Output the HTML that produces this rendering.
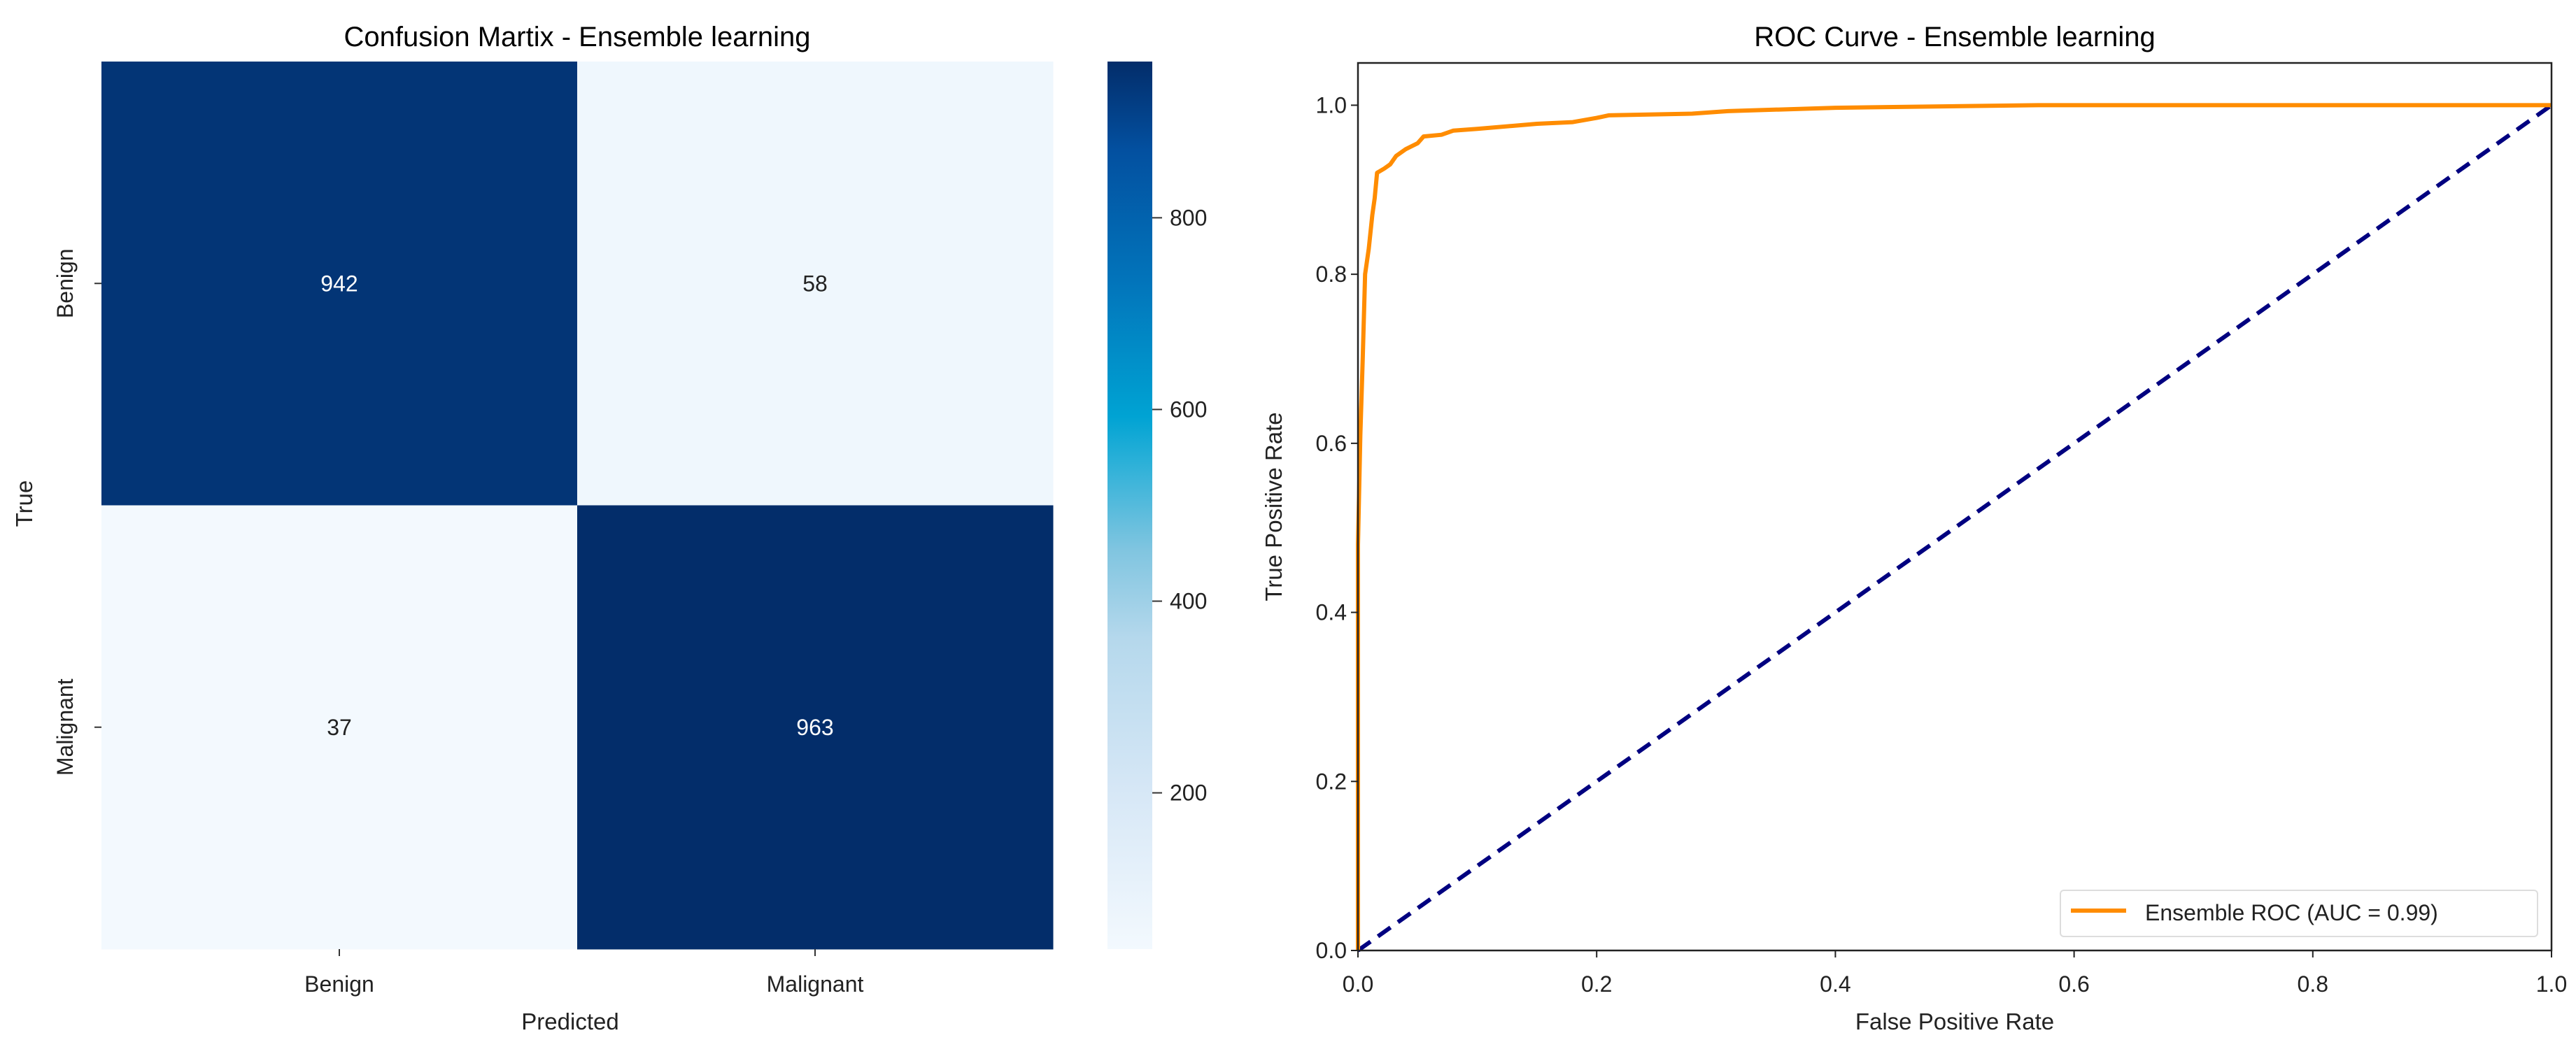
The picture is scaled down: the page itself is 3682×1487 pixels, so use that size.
<!DOCTYPE html>
<html><head><meta charset="utf-8"><style>
html,body{margin:0;padding:0;background:#fff;}
svg{display:block;font-family:"Liberation Sans",sans-serif;}
</style></head><body>
<svg id="fig" width="3682" height="1487" viewBox="0 0 3682 1487" xmlns="http://www.w3.org/2000/svg">
<defs>
<linearGradient id="cbgrad" x1="0" y1="1" x2="0" y2="0">
<stop offset="0" stop-color="#f3f9fe"/>
<stop offset="0.18" stop-color="#d6e7f6"/>
<stop offset="0.35" stop-color="#b5d8ec"/>
<stop offset="0.45" stop-color="#80c5e0"/>
<stop offset="0.55" stop-color="#2ab0d8"/>
<stop offset="0.6" stop-color="#00a3d3"/>
<stop offset="0.75" stop-color="#0275bb"/>
<stop offset="0.9" stop-color="#0350a0"/>
<stop offset="1" stop-color="#032d6a"/>
</linearGradient>
</defs>
<g id="hm"></g>
<g id="roc"></g>
</svg>
<script>
const cmLabels = ["Benign", "Malignant"];
const cmValues = [[942, 58], [37, 963]];
const cbTicks = [200, 400, 600, 800];
const rocFpr = [0, 0, 0.002, 0.004, 0.006, 0.009, 0.012, 0.014, 0.016, 0.022, 0.027, 0.032, 0.04, 0.05, 0.055, 0.07, 0.08, 0.1, 0.15, 0.18, 0.2, 0.21, 0.28, 0.31, 0.4, 0.57, 1.0];
const rocTpr = [0, 0.48, 0.61, 0.70, 0.80, 0.83, 0.87, 0.89, 0.92, 0.925, 0.93, 0.94, 0.948, 0.955, 0.963, 0.965, 0.97, 0.972, 0.978, 0.98, 0.985, 0.988, 0.99, 0.993, 0.997, 1.0, 1.0];
const rocXTicks = [0, 0.2, 0.4, 0.6, 0.8, 1.0];
const rocYTicks = [0, 0.2, 0.4, 0.6, 0.8, 1.0];

const NS = "http://www.w3.org/2000/svg";
function mk(parent, tag, attrs, text) {
  const e = document.createElementNS(NS, tag);
  for (const k in attrs) e.setAttribute(k, attrs[k]);
  if (text !== undefined) e.textContent = text;
  parent.appendChild(e);
  return e;
}
const TXT = "#222";
// ---------- heatmap ----------
const hm = document.getElementById("hm");
const HX0 = 145, HX1 = 1505, HY0 = 88, HY1 = 1357;
const vmin = 37, vmax = 963;
const stops = [[0,[243,249,254]],[0.18,[214,231,246]],[0.35,[181,216,236]],[0.45,[128,197,224]],[0.55,[42,176,216]],[0.6,[0,163,211]],[0.75,[2,117,187]],[0.9,[3,80,160]],[1,[3,45,106]]];
function cmap(v){
  let t=(v-vmin)/(vmax-vmin); t=Math.max(0,Math.min(1,t));
  for(let i=1;i<stops.length;i++){ if(t<=stops[i][0]){ const a=stops[i-1],b=stops[i]; const f=(t-a[0])/(b[0]-a[0]);
    const c=a[1].map((x,j)=>Math.round(x+(b[1][j]-x)*f)); return `rgb(${c[0]},${c[1]},${c[2]})`; } }
  return "rgb(3,45,106)";
}
const n = cmLabels.length;
const cw = (HX1-HX0)/n, ch = (HY1-HY0)/n;
let t;
t = mk(hm,"text",{x:(HX0+HX1)/2,y:66,"text-anchor":"middle","font-size":40,fill:"#000"},"Confusion Martix - Ensemble learning");


for (let r=0;r<n;r++) for (let c=0;c<n;c++){
  const v = cmValues[r][c];
  const rc = mk(hm,"rect",{x:HX0+c*cw,y:HY0+r*ch,width:cw+0.5,height:ch+0.5,fill:cmap(v)});
  
  
  const tx = mk(hm,"text",{x:HX0+(c+0.5)*cw,y:HY0+(r+0.5)*ch+11,"text-anchor":"middle","font-size":32,fill:(v>(vmin+vmax)/2)?"#fff":"#222"},String(v));
  
  
}
for (let i=0;i<n;i++){
  const cx = HX0+(i+0.5)*cw;
  mk(hm,"line",{x1:cx,y1:HY1,x2:cx,y2:HY1+10,stroke:"#333","stroke-width":2});
  const xl = mk(hm,"text",{x:cx,y:1418,"text-anchor":"middle","font-size":32,fill:TXT},cmLabels[i]);
  
  
  const cy = HY0+(i+0.5)*ch;
  mk(hm,"line",{x1:HX0-10,y1:cy,x2:HX0,y2:cy,stroke:"#333","stroke-width":2});
  const yl = mk(hm,"text",{x:0,y:0,"text-anchor":"middle","font-size":32,fill:TXT,transform:`translate(104,${cy}) rotate(-90)`},cmLabels[i]);
  
  
}
t = mk(hm,"text",{x:(HX0+HX1)/2-10,y:1472,"text-anchor":"middle","font-size":33,fill:TXT},"Predicted");


t = mk(hm,"text",{x:0,y:0,"text-anchor":"middle","font-size":33,fill:TXT,transform:"translate(46,720) rotate(-90)"},"True");


// colorbar
const CX0=1583, CX1=1647;
const cb = mk(hm,"rect",{x:CX0,y:HY0,width:CX1-CX0,height:HY1-HY0,fill:"url(#cbgrad)"});


function cbY(v){ return HY1-(v-vmin)/(vmax-vmin)*(HY1-HY0); }
cbTicks.forEach(v=>{
  const y=cbY(v);
  mk(hm,"line",{x1:CX1,y1:y,x2:CX1+14,y2:y,stroke:"#333","stroke-width":2});
  const l = mk(hm,"text",{x:1672,y:y+11,"font-size":32,fill:TXT},String(v));
  
  
});
// ---------- ROC ----------
const roc = document.getElementById("roc");
const RX0=1941, RX1=3647, RY0=90, RY1=1359;
const ymax=1.05;
const sx = v => RX0+v*(RX1-RX0);
const sy = v => RY1-v/ymax*(RY1-RY0);
t = mk(roc,"text",{x:(RX0+RX1)/2,y:66,"text-anchor":"middle","font-size":40,fill:"#000"},"ROC Curve - Ensemble learning");


const diag = mk(roc,"line",{x1:sx(0),y1:sy(0),x2:sx(1),y2:sy(1),stroke:"#000080","stroke-width":6,"stroke-dasharray":"22,13"});


let d="";
rocFpr.forEach((f,i)=>{ d+=(i?"L":"M")+sx(f).toFixed(1)+","+sy(rocTpr[i]).toFixed(1); });
const curve = mk(roc,"path",{d:d,fill:"none",stroke:"#ff8c00","stroke-width":6,"stroke-linejoin":"round"});


const fr = mk(roc,"rect",{x:RX0,y:RY0,width:RX1-RX0,height:RY1-RY0,fill:"none",stroke:"#222","stroke-width":2.5});


rocXTicks.forEach(v=>{
  const x=sx(v);
  mk(roc,"line",{x1:x,y1:RY1,x2:x,y2:RY1+10,stroke:"#222","stroke-width":2});
  const l=mk(roc,"text",{x:x,y:1418,"text-anchor":"middle","font-size":32,fill:TXT},v.toFixed(1));
  
  
});
rocYTicks.forEach(v=>{
  const y=sy(v);
  mk(roc,"line",{x1:RX0-10,y1:y,x2:RX0,y2:y,stroke:"#222","stroke-width":2});
  const l=mk(roc,"text",{x:RX0-16,y:y+11,"text-anchor":"end","font-size":32,fill:TXT},v.toFixed(1));
  
  
});
t = mk(roc,"text",{x:(RX0+RX1)/2,y:1472,"text-anchor":"middle","font-size":33,fill:TXT},"False Positive Rate");


t = mk(roc,"text",{x:0,y:0,"text-anchor":"middle","font-size":33,fill:TXT,transform:`translate(1832,${(RY0+RY1)/2}) rotate(-90)`},"True Positive Rate");


const lg = mk(roc,"g",{});


mk(lg,"rect",{x:2945,y:1273,width:682,height:66,rx:5,fill:"#fff",stroke:"#ddd","stroke-width":2});
mk(lg,"line",{x1:2960,y1:1302,x2:3039,y2:1302,stroke:"#ff8c00","stroke-width":6});
const lt = mk(lg,"text",{x:3066,y:1316,"font-size":32,fill:TXT},"Ensemble ROC (AUC = 0.99)");


</script>
</body></html>
